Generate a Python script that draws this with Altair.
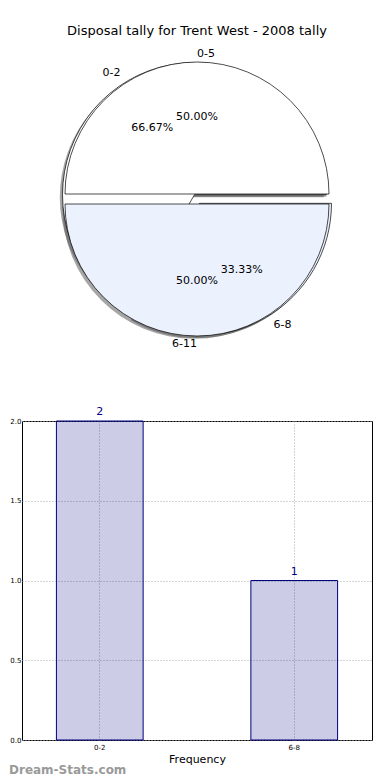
import altair as alt
import pandas as pd

title_text = "Disposal tally for Trent West - 2008 tally"

# outer pie (drawn last, on top)
pie1_labels = ["0-5", "6-11"]
pie1_values = [1, 1]
# inner pie (drawn first, mostly hidden)
pie2_labels = ["0-2", "6-8"]
pie2_values = [2, 1]

bar_labels = ["0-2", "6-8"]
bar_values = [2, 1]

watermark = ["Dream-Stats.com"]

rows = []
for i, (l, v) in enumerate(zip(pie2_labels, pie2_values)):
    rows.append({"pie": "b", "label": l, "value": v, "order": i})
for i, (l, v) in enumerate(zip(pie1_labels, pie1_values)):
    rows.append({"pie": "a", "label": l, "value": v, "order": i})
pie_df = pd.DataFrame(rows)

CX, CY, R, E, SH = 175, 156, 132, 5, 2.7
FONT = "DejaVu Sans"

base = (
    alt.Chart(pie_df)
    .transform_joinaggregate(total="sum(value)", groupby=["pie"])
    .transform_window(cum="sum(value)", groupby=["pie"],
                      sort=[alt.SortField("order")], frame=[None, 0])
    .transform_calculate(
        a0="(datum.cum - datum.value) / datum.total * 2 * PI",
        a1="datum.cum / datum.total * 2 * PI",
    )
    .transform_calculate(
        mid="(datum.a0 + datum.a1) / 2",
        t0="PI / 2 - datum.a1",
        t1="PI / 2 - datum.a0",
    )
    .transform_calculate(
        cx=f"{CX} + {E} * cos(datum.mid)",
        cy=f"{CY} - {E} * sin(datum.mid)",
        pct="format(datum.value / datum.total * 100, '.2f') + '%'",
    )
    .transform_calculate(
        sx=f"datum.cx - {SH}",
        sy=f"datum.cy + {SH}",
        lx=f"datum.cx + {1.12 * R} * cos(datum.mid)",
        ly=f"datum.cy - {1.06 * R} * sin(datum.mid)",
        px=f"datum.cx + {0.64 * R} * cos(datum.mid)",
        py=f"datum.cy - {0.58 * R} * sin(datum.mid)",
    )
)

theta = alt.Theta("t0:Q", scale=None, stack=None)
theta2 = alt.Theta2("t1:Q")

shadows = base.mark_arc(radius=R, fill="#4d4d4d", fillOpacity=0.5, strokeWidth=0).encode(
    theta=theta, theta2=theta2,
    x=alt.X("sx:Q", scale=None, axis=None),
    y=alt.Y("sy:Q", scale=None, axis=None),
)

wedges = base.mark_arc(radius=R, stroke="black", strokeWidth=0.7).encode(
    theta=theta, theta2=theta2,
    x=alt.X("cx:Q", scale=None, axis=None),
    y=alt.Y("cy:Q", scale=None, axis=None),
    fill=alt.Fill("label:N", legend=None,
                  scale=alt.Scale(domain=pie1_labels + pie2_labels,
                                  range=["white", "#ebf1fd", "white", "#ebf1fd"])),
)

lab_left = base.transform_filter("cos(datum.mid) >= 0").mark_text(
    align="left", baseline="middle", fontSize=11, font=FONT, color="black"
).encode(
    x=alt.X("lx:Q", scale=None, axis=None),
    y=alt.Y("ly:Q", scale=None, axis=None),
    text="label:N",
)
lab_right = base.transform_filter("cos(datum.mid) < 0").mark_text(
    align="right", baseline="middle", fontSize=11, font=FONT, color="black"
).encode(
    x=alt.X("lx:Q", scale=None, axis=None),
    y=alt.Y("ly:Q", scale=None, axis=None),
    text="label:N",
)
pcts = base.mark_text(
    align="center", baseline="middle", fontSize=11, font=FONT, color="black"
).encode(
    x=alt.X("px:Q", scale=None, axis=None),
    y=alt.Y("py:Q", scale=None, axis=None),
    text="pct:N",
)

pie = alt.layer(shadows, wedges, lab_left, lab_right, pcts).properties(
    width=350, height=320,
    title=alt.Title(title_text, fontSize=13, fontWeight="normal", font=FONT,
                    anchor="middle", offset=5, color="black"),
    view=alt.ViewBackground(stroke=None),
)

bar_df = pd.DataFrame({"label": bar_labels, "count": bar_values})
wm_df = pd.DataFrame({"t": watermark})

grid_style = dict(grid=True, gridDash=[1, 2], gridColor="#a8a8a8", gridWidth=1,
                  tickSize=0, domain=False)

xenc = alt.X("label:N",
             scale=alt.Scale(paddingInner=0.554, paddingOuter=0.177),
             axis=alt.Axis(title="Frequency", labelAngle=0, labelFontSize=7,
                           labelFont=FONT, titleFont=FONT, titleFontSize=11,
                           titleFontWeight="normal", bandPosition=0.5,
                           labelPadding=3, titlePadding=3, labelColor="black",
                           titleColor="black", **grid_style))
yenc = alt.Y("count:Q",
             scale=alt.Scale(domain=[0, 2], nice=False),
             axis=alt.Axis(title=None, values=[0, 0.5, 1, 1.5, 2], format=".1f",
                           labelFontSize=7, labelFont=FONT, labelPadding=1,
                           labelColor="black", **grid_style))

bars = alt.Chart(bar_df).mark_bar(
    fill="#000080", fillOpacity=0.2, stroke="#000080", strokeWidth=1
).encode(x=xenc, y=yenc)

vals = alt.Chart(bar_df).mark_text(
    dy=-9, color="#000080", fontSize=11, font=FONT, baseline="middle"
).encode(x=alt.X("label:N"), y=alt.Y("count:Q"), text="count:Q")

wm = alt.Chart(wm_df).mark_text(
    align="left", baseline="middle", fontSize=12, font=FONT, color="#9a9a9a",
    fontWeight=600
).encode(x=alt.value(-13), y=alt.value(349), text="t:N")

bar = alt.layer(bars, vals, wm).properties(
    width=350, height=319,
    view=alt.ViewBackground(stroke="black", strokeWidth=1),
)

chart = alt.vconcat(pie, bar, spacing=58, bounds="flush").properties(
    padding={"top": 17, "left": 0, "right": 0, "bottom": 0}
).configure(font=FONT)

chart.save("out.html", embed_options={"renderer": "svg", "actions": False})
